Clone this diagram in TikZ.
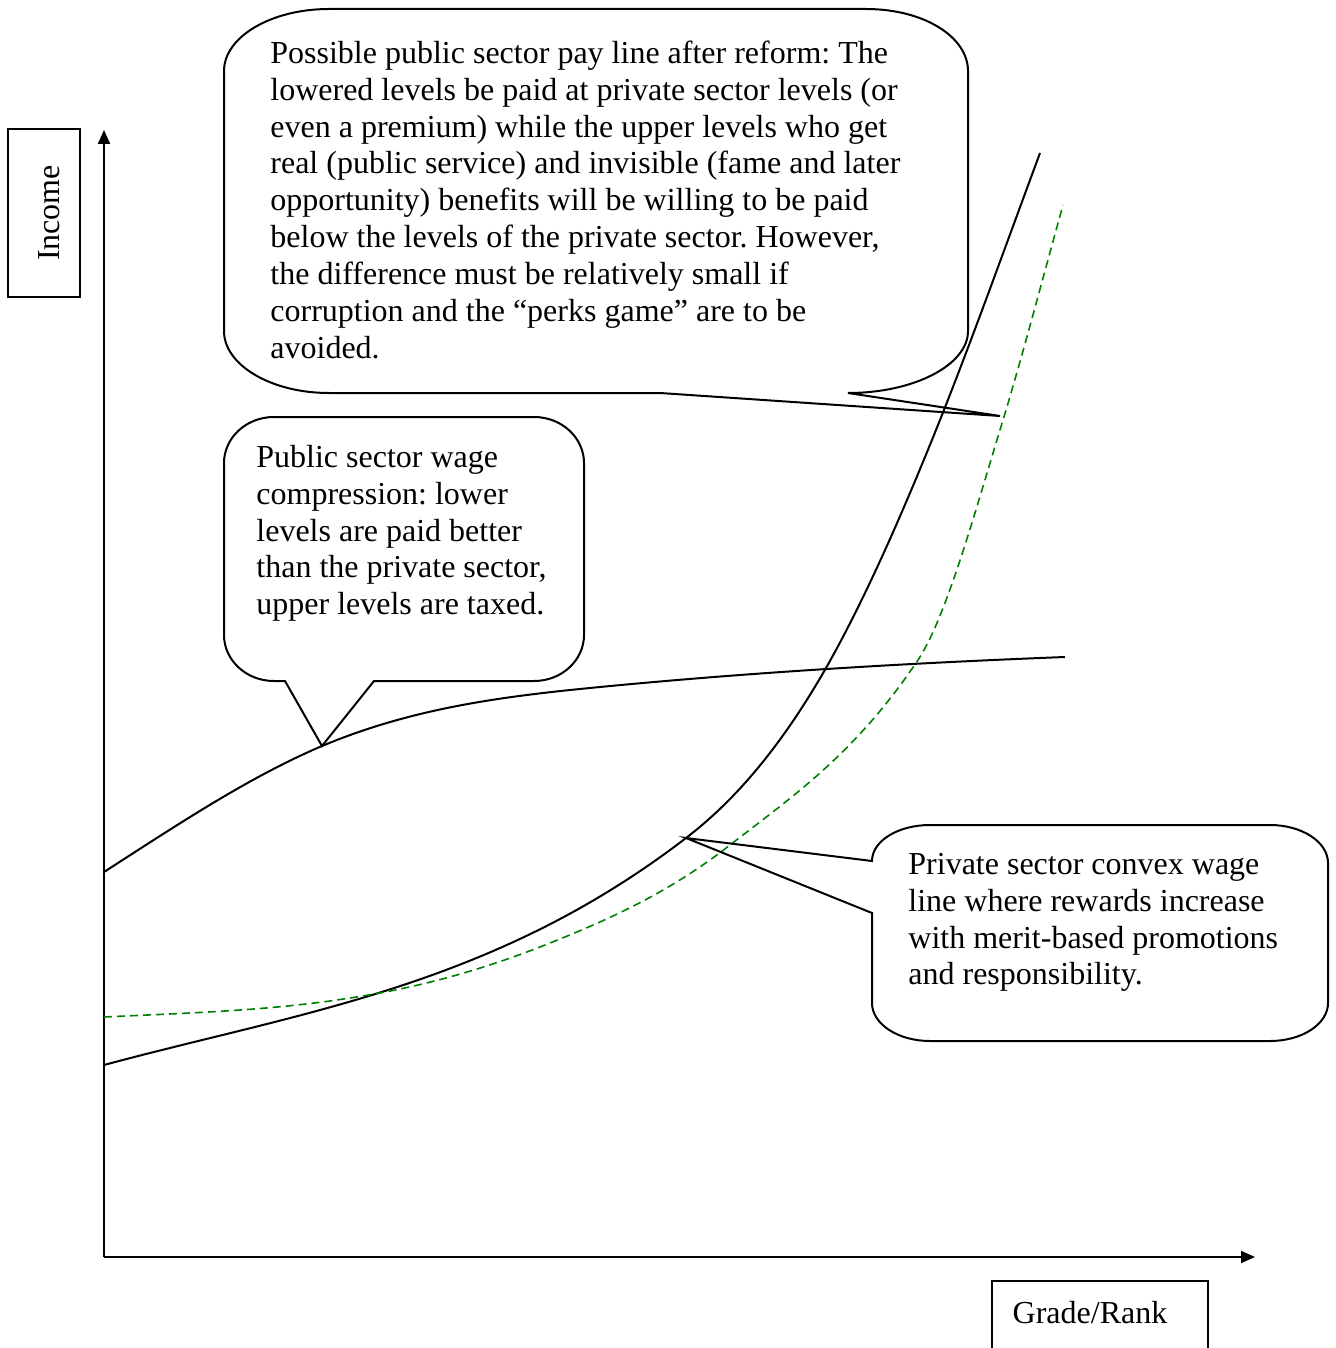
\documentclass[tikz,border=0pt]{standalone}
\usepackage{fontspec}
\setmainfont{Liberation Serif}
\usetikzlibrary{arrows.meta}
\definecolor{dgreen}{RGB}{0,128,0}
\begin{document}
\frenchspacing
\begin{tikzpicture}[x=0.5pt,y=-0.5pt,
  txt/.style={anchor=north west, inner sep=0pt, align=left, font=\fontsize{16}{18.45}\selectfont\frenchspacing},
  lbl/.style={inner sep=0pt, font=\fontsize{16}{18.45}\selectfont},
  bubble/.style={draw=black, line width=1pt, line join=miter},
  curve/.style={draw=black, line width=1pt},
  privdash/.style={draw=dgreen, dash pattern=on 4pt off 2.5pt, line width=0.8pt},
  axis/.style={draw=black, line width=1pt, -{Triangle[length=7pt,width=6pt]}},
  boxed/.style={draw=black, line width=1pt}]
\useasboundingbox (0,0) rectangle (1335,1348);

% axes
\coordinate (O) at (104,1257);
\coordinate (Ytop) at (104,130);
\coordinate (Xend) at (1255,1257);
\draw[axis] (O) -- (Ytop);
\draw[axis] (O) -- (Xend);

% axis labels
\draw[boxed] (8,129) rectangle (80,297);
\node[lbl, rotate=90] (income) at (49,213) {Income};
\draw[boxed] (992,1352) -- (992,1281) -- (1208,1281) -- (1208,1352);
\node[lbl, anchor=base] (grade) at (1090,1323) {Grade/Rank};

% public sector (compressed) line
\draw[curve] (104,872) .. controls (177,825) and (249,777) .. (322,746)
  .. controls (415,707) and (507,696) .. (600,687)
  .. controls (755,672) and (910,663) .. (1065,657);
% private sector convex line
\draw[curve] (104,1065) .. controls (300,1012) and (492,987) .. (686,838)
  .. controls (733,802) and (779,750) .. (826,668)
  .. controls (864,601) and (902,515) .. (940,420)
  .. controls (973,337) and (1007,242) .. (1040,153);
% possible public pay line after reform
\draw[privdash] (104,1017) .. controls (186,1013) and (268,1011) .. (350,998)
  .. controls (417,988) and (483,970) .. (550,943)
  .. controls (610,919) and (670,892) .. (730,845)
  .. controls (793,796) and (855,754) .. (918,660)
  .. controls (946,618) and (975,512) .. (1003,420)
  .. controls (1023,354) and (1043,277) .. (1063,205);

% callout 1
\draw[bubble] (660,393) -- (1000,416) -- (848,393)
  .. controls (914,393) and (968,365) .. (968,331) -- (968,71)
  .. controls (968,37) and (924,9) .. (866,9) -- (329,9)
  .. controls (271,9) and (224,37) .. (224,71) -- (224,331)
  .. controls (224,365) and (271,393) .. (329,393) -- cycle;
\node[txt] (t1) at (270,37) {\strut Possible public sector pay line after reform: The\\
lowered levels be paid at private sector levels (or\\
even a premium) while the upper levels who get\\
real (public service) and invisible (fame and later\\
opportunity) benefits will be willing to be paid\\
below the levels of the private sector. However,\\
the difference must be relatively small if\\
corruption and the “perks game” are to be\\
avoided.};

% callout 2
\draw[bubble] (285,681) -- (322,746) -- (374,681) -- (534,681)
  .. controls (562,681) and (584,660) .. (584,635) -- (584,463)
  .. controls (584,438) and (562,417) .. (534,417) -- (274,417)
  .. controls (246,417) and (224,438) .. (224,463) -- (224,635)
  .. controls (224,660) and (246,681) .. (274,681) -- cycle;
\node[txt] (t2) at (256,441) {\strut Public sector wage\\
compression: lower\\
levels are paid better\\
than the private sector,\\
upper levels are taxed.};

% callout 3
\draw[bubble] (872,913) -- (686,838) -- (872,861)
  .. controls (872,841) and (898,825) .. (930,825) -- (1270,825)
  .. controls (1302,825) and (1328,842) .. (1328,863) -- (1328,1003)
  .. controls (1328,1024) and (1302,1041) .. (1270,1041) -- (930,1041)
  .. controls (898,1041) and (872,1024) .. (872,1003) -- cycle;
\node[txt] (t3) at (908,848) {\strut Private sector convex wage\\
line where rewards increase\\
with merit-based promotions\\
and responsibility.};
\end{tikzpicture}
\end{document}
